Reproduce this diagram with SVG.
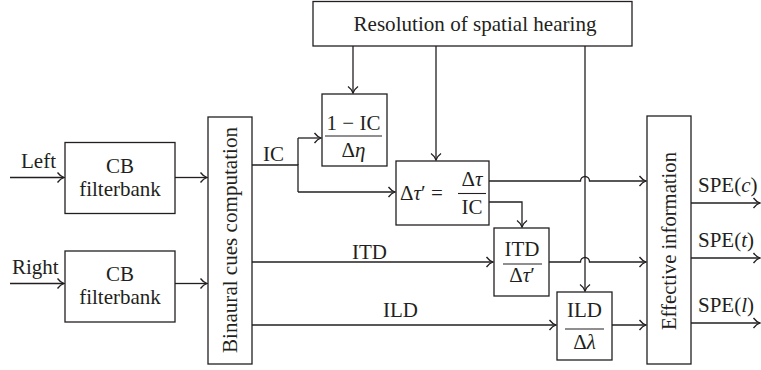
<svg xmlns="http://www.w3.org/2000/svg" width="761" height="370" viewBox="0 0 761 370" font-family="'Liberation Serif', 'Times New Roman', serif">
<style>
.box{fill:#fff;stroke:#231f20;stroke-width:1.3}
.ln{fill:none;stroke:#231f20;stroke-width:1.3}
.arr{fill:none;stroke:#231f20;stroke-width:1.3;marker-end:url(#ah)}
text{font-family:'Liberation Serif','Times New Roman',serif;font-size:21px;fill:#231f20}
.m{text-anchor:middle}
.i{font-style:italic}
.fr{stroke:#231f20;stroke-width:1.1}
</style>
<defs>
<marker id="ah" markerWidth="10" markerHeight="12" refX="9" refY="6" orient="auto" markerUnits="userSpaceOnUse">
<path d="M2.5 1 Q5.5 5 9 6 Q5.5 7 2.5 11" fill="none" stroke="#231f20" stroke-width="1.3"/>
</marker>
</defs>
<rect width="761" height="370" fill="#fff"/>

<g id="connectors">
<path class="arr" d="M10 177.5H64"/>
<path class="arr" d="M10 283.5H64"/>
<path class="arr" d="M175 177.5H207"/>
<path class="arr" d="M175 283.5H207"/>
<path class="ln" d="M252 165H298V192"/>
<path class="ln" d="M298 138V165"/>
<path class="arr" d="M298 138H321"/>
<path class="arr" d="M298 192H395"/>
<path class="arr" d="M252 262H493"/>
<path class="arr" d="M252 325H556"/>
<path class="arr" d="M353 46V93"/>
<path class="arr" d="M436 46V160"/>
<path class="arr" d="M585 46V291"/>
<path class="arr" d="M489 181H580.5A4.5 4.5 0 0 1 589.5 181H646"/>
<path class="arr" d="M549 262H580.5A4.5 4.5 0 0 1 589.5 262H646"/>
<path class="arr" d="M489 202H522V227"/>
<path class="arr" d="M612 325H646"/>
<path class="arr" d="M691 203H760"/>
<path class="arr" d="M691 258H760"/>
<path class="arr" d="M691 323H760"/>
</g>

<g id="label-left"><text x="21" y="168">Left</text></g>
<g id="label-right"><text x="12" y="274">Right</text></g>

<g id="cb-left">
<rect class="box" x="65" y="142.5" width="110" height="71"/>
<text class="m" x="120" y="173">CB</text>
<text class="m" x="120" y="196">filterbank</text>
</g>
<g id="cb-right">
<rect class="box" x="65" y="251" width="110" height="71"/>
<text class="m" x="120" y="281">CB</text>
<text class="m" x="120" y="304">filterbank</text>
</g>

<g id="binaural">
<rect class="box" x="208" y="117" width="44" height="247"/>
<text class="m" transform="translate(237 240) rotate(-90)" textLength="226" lengthAdjust="spacingAndGlyphs">Binaural cues computation</text>
</g>

<g id="resolution">
<rect class="box" x="313" y="1.5" width="319" height="44.5"/>
<text class="m" x="475" y="31" textLength="243" lengthAdjust="spacingAndGlyphs">Resolution of spatial hearing</text>
</g>

<g id="label-ic"><text x="263" y="161">IC</text></g>
<g id="label-itd"><text x="352" y="259">ITD</text></g>
<g id="label-ild"><text x="383" y="317">ILD</text></g>

<g id="one-minus-ic">
<rect class="box" x="322" y="94" width="65" height="72"/>
<text class="m" x="353.5" y="130">1 − IC</text>
<line class="fr" x1="325" y1="136" x2="382" y2="136"/>
<text class="m" x="353.5" y="157">Δ<tspan class="i">η</tspan></text>
</g>

<g id="delta-tau-prime">
<rect class="box" x="396" y="161" width="93" height="64"/>
<text x="400" y="200">Δ<tspan class="i">τ</tspan>′ =</text>
<text class="m" x="472" y="186">Δ<tspan class="i">τ</tspan></text>
<line class="fr" x1="458" y1="193.5" x2="486" y2="193.5"/>
<text class="m" x="472" y="214">IC</text>
</g>

<g id="itd-box">
<rect class="box" x="494" y="228" width="55" height="68"/>
<text class="m" x="522" y="256">ITD</text>
<line class="fr" x1="503" y1="264" x2="542" y2="264"/>
<text class="m" x="522" y="282">Δ<tspan class="i">τ</tspan>′</text>
</g>

<g id="ild-box">
<rect class="box" x="557" y="292" width="55" height="68"/>
<text class="m" x="584.5" y="317">ILD</text>
<line class="fr" x1="565" y1="329" x2="604" y2="329"/>
<text class="m" x="584.5" y="349">Δ<tspan class="i">λ</tspan></text>
</g>

<g id="effective">
<rect class="box" x="647" y="116" width="44" height="248"/>
<text class="m" transform="translate(676 241) rotate(-90)" textLength="178" lengthAdjust="spacingAndGlyphs">Effective information</text>
</g>

<g id="out-labels">
<text x="698" y="192">SPE(<tspan class="i">c</tspan>)</text>
<text x="698" y="247">SPE(<tspan class="i">t</tspan>)</text>
<text x="698" y="312">SPE(<tspan class="i">l</tspan>)</text>
</g>
</svg>
